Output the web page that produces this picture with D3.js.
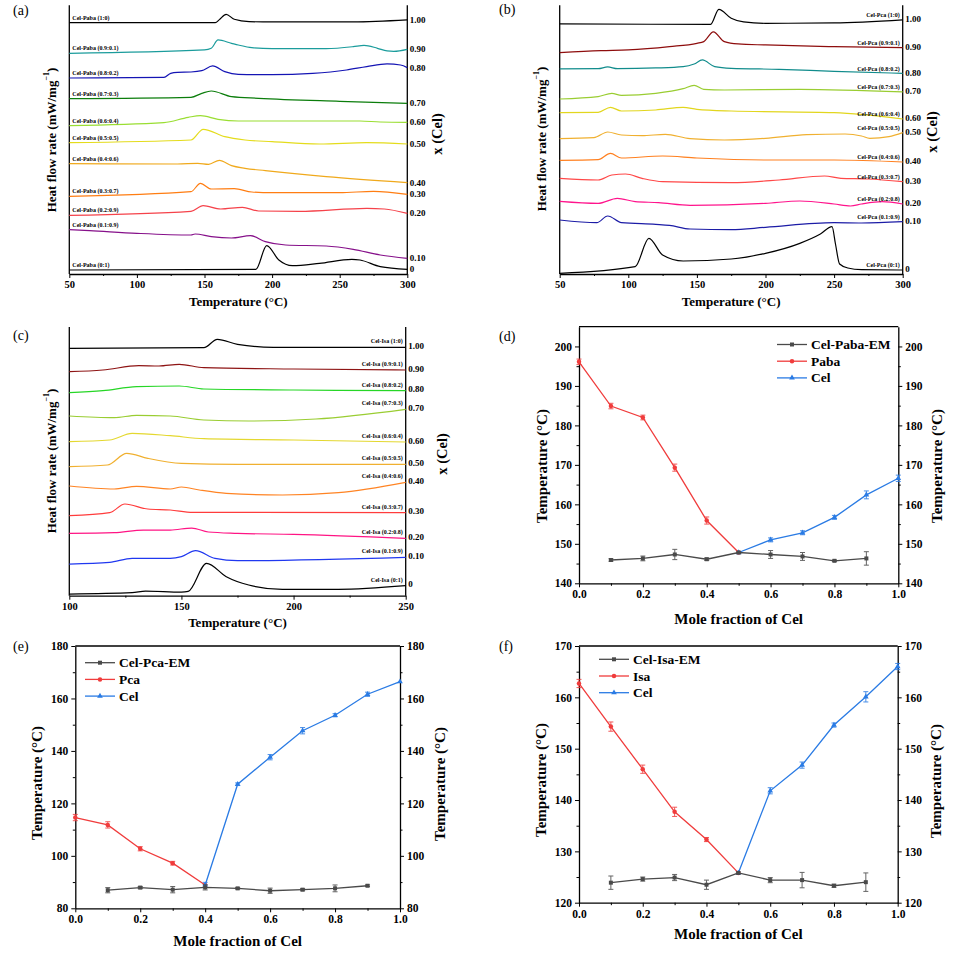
<!DOCTYPE html>
<html>
<head>
<meta charset="utf-8">
<script src="https://cdn.jsdelivr.net/npm/d3@7"></script>
<style>
  body { margin: 0; background: #fff; }
  svg text { font-family: "Liberation Serif", "DejaVu Serif", serif !important; font-weight: bold; fill: #000; }
</style>
</head>
<body>
<div id="fig"></div>
<script>
// ---------- (a) Cel-Paba DSC curves: [temperature, heat flow (a.u., stacked)] ----------
const labelsA = ["Cel-Paba (1:0)", "Cel-Paba (0.9:0.1)", "Cel-Paba (0.8:0.2)", "Cel-Paba (0.7:0.3)", "Cel-Paba (0.6:0.4)",
  "Cel-Paba (0.5:0.5)", "Cel-Paba (0.4:0.6)", "Cel-Paba (0.3:0.7)", "Cel-Paba (0.2:0.9)", "Cel-Paba (0.1:0.9)", "Cel-Paba (0:1)"];
const fracA = ["1.00", "0.90", "0.80", "0.70", "0.60", "0.50", "0.40", "0.30", "0.20", "0.10", "0"];
const curvesA = [
  [[50,75.4],[158,75.4],[161,76.3],[166,77.9],[172,76.4],[183,75.7],[200,75.6],[260,75.6],[300,76.2]],
  [[50,66.2],[150,67.2],[155,67.7],[160,70.2],[170,69.2],[175,68.7],[185,67.9],[200,67.6],[240,67.6],[260,68.2],[268,68.6],[278,67.7],[285,66.9],[290,66.8],[300,67.4]],
  [[50,58.8],[120,59.0],[125,60.2],[130,60.5],[140,60.6],[148,61.0],[156,62.4],[165,60.7],[175,59.9],[200,59.8],[230,60.2],[255,61.2],[270,62.2],[285,63.0],[295,62.7],[300,61.9]],
  [[50,52.6],[140,53.0],[148,54.2],[155,54.9],[170,53.2],[190,52.7],[250,51.8],[300,51.2]],
  [[50,44.5],[120,45.4],[138,47.0],[147,47.5],[160,46.4],[175,45.9],[265,45.9],[280,45.6],[300,45.5]],
  [[50,39.4],[140,40.2],[149,43.4],[165,41.2],[180,40.2],[200,39.7],[235,39.0],[270,39.4],[300,39.0]],
  [[50,33.1],[130,33.0],[145,33.2],[153,32.9],[161,34.1],[170,32.5],[180,31.7],[195,31.0],[240,29.2],[300,27.4]],
  [[50,23.3],[140,24.7],[147,27.2],[155,25.5],[172,25.6],[185,24.6],[200,24.4],[250,24.4],[275,24.8],[300,23.9]],
  [[50,17.6],[140,18.8],[149,20.5],[162,19.5],[178,20.0],[190,18.9],[220,18.8],[270,19.7],[283,19.5],[300,18.2]],
  [[50,13.3],[65,13.0],[100,12.2],[140,11.7],[143,12.0],[155,11.2],[170,10.8],[184,11.5],[195,9.7],[210,8.7],[240,8.4],[260,7.4],[280,5.7],[300,4.7]],
  [[50,1.2],[188,1.4],[196,8.5],[205,4.2],[215,2.5],[235,3.2],[259,4.4],[265,4.2],[280,2.2],[300,1.4]]
];
const colorsA = ["#000000", "#1b9c9c", "#1414b4", "#0b7d0b", "#9ade32", "#e4dc1c", "#f0a91c", "#ff7d12", "#f5424a", "#86108a", "#000000"];

// ---------- (b) Cel-Pca DSC curves ----------
const labelsB = ["Cel-Pca (1:0)", "Cel-Pca (0.9:0.1)", "Cel-Pca (0.8:0.2)", "Cel-Pca (0.7:0.3)", "Cel-Pca (0.6:0.4)",
  "Cel-Pca (0.5:0.5)", "Cel-Pca (0.4:0.6)", "Cel-Pca (0.3:0.7)", "Cel-Pca (0.2:0.8)", "Cel-Pca (0.1:0.9)", "Cel-Pca (0:1)"];
const fracB = ["1.00", "0.90", "0.80", "0.70", "0.60", "0.50", "0.40", "0.30", "0.20", "0.10", "0"];
const curvesB = [
  [[50,75.0],[160,74.9],[166,79.4],[175,76.7],[184,75.6],[200,75.2],[250,75.3],[300,76.2]],
  [[50,66.4],[80,67.0],[100,67.2],[130,68.2],[150,69.2],[155,69.7],[162,72.6],[170,69.7],[180,69.0],[200,68.7],[250,68.2],[300,67.9]],
  [[50,61.5],[78,61.6],[85,62.1],[92,61.6],[120,61.8],[140,62.2],[148,63.0],[154,64.2],[163,62.2],[175,61.7],[210,61.4],[250,60.8],[300,60.2]],
  [[50,52.5],[78,53.2],[88,54.2],[95,53.6],[120,54.2],[140,55.6],[148,56.6],[155,55.4],[170,55.2],[225,55.4],[300,54.6]],
  [[50,48.4],[78,48.5],[87,50.0],[95,48.9],[120,49.2],[140,50.0],[150,49.4],[175,48.9],[250,48.4],[300,46.5]],
  [[50,40.6],[75,40.9],[85,42.6],[95,41.7],[110,41.5],[127,41.9],[145,40.6],[170,40.2],[200,40.7],[230,41.8],[258,42.0],[270,41.4],[276,40.7],[290,41.2],[300,42.4]],
  [[50,34.1],[78,34.3],[87,36.2],[95,34.8],[125,35.4],[150,34.8],[200,34.2],[250,34.2],[300,33.6]],
  [[50,28.7],[78,28.2],[88,29.7],[98,30.0],[110,28.7],[125,27.7],[175,27.4],[210,28.2],[243,29.4],[255,28.7],[275,28.5],[300,27.7]],
  [[50,21.8],[78,21.2],[92,22.7],[105,21.7],[122,21.4],[145,20.6],[200,21.2],[225,21.9],[250,21.0],[262,20.4],[270,21.0],[285,21.7],[300,21.0]],
  [[50,16.2],[77,15.4],[85,17.4],[95,15.4],[120,14.9],[130,14.6],[145,13.5],[175,13.3],[200,14.0],[250,15.4],[270,15.3],[300,15.7]],
  [[50,0.2],[105,2.2],[115,10.7],[125,5.7],[140,3.9],[175,4.5],[200,6.2],[225,9.2],[240,12.0],[248.5,14.2],[251,9.0],[254,3.0],[260,1.8],[270,1.3],[300,1.2]]
];
const colorsB = ["#000000", "#8e0d0d", "#118c8c", "#9acd32", "#e2d61e", "#f0b030", "#ff8020", "#ff4848", "#ff148c", "#1c1ca6", "#000000"];

// ---------- (c) Cel-Isa DSC curves ----------
const labelsC = ["Cel-Isa (1:0)", "Cel-Isa (0.9:0.1)", "Cel-Isa (0.8:0.2)", "Cel-Isa (0.7:0.3)", "Cel-Isa (0.6:0.4)",
  "Cel-Isa (0.5:0.5)", "Cel-Isa (0.4:0.6)", "Cel-Isa (0.3:0.7)", "Cel-Isa (0.2:0.8)", "Cel-Isa (0.1:0.9)", "Cel-Isa (0:1)"];
const fracC = ["1.00", "0.90", "0.80", "0.70", "0.60", "0.50", "0.40", "0.30", "0.20", "0.10", "0"];
const curvesC = [
  [[100,74.2],[160,74.4],[166,76.9],[175,75.4],[191,74.5],[250,74.5]],
  [[100,67.2],[115,67.7],[131,69.0],[140,68.9],[149,69.4],[160,68.4],[200,68.0],[250,67.7]],
  [[100,60.9],[115,61.5],[130,62.7],[149,62.9],[160,62.0],[200,61.7],[250,61.5]],
  [[100,53.9],[120,53.4],[130,54.1],[145,53.9],[160,52.7],[180,52.4],[210,53.0],[250,55.9]],
  [[100,46.2],[118,46.7],[128,48.7],[145,48.0],[160,47.1],[200,46.7],[250,46.1]],
  [[100,38.7],[117,39.2],[125.6,42.7],[135,41.2],[150,39.7],[175,39.4],[250,39.4]],
  [[100,32.9],[120,32.0],[130,32.8],[145,32.0],[150,32.6],[158,31.7],[170,30.7],[195,30.2],[220,30.9],[250,34.0]],
  [[100,24.0],[118,24.9],[124.8,27.5],[135,26.0],[145,25.7],[155,25.0],[250,24.9]],
  [[100,18.7],[120,18.9],[133,19.7],[145,19.7],[154.6,20.3],[162,19.1],[175,18.7],[200,18.4],[250,17.2]],
  [[100,9.5],[118,10.0],[128,11.2],[145,11.2],[150,11.7],[156.3,13.5],[165,11.2],[175,10.5],[250,11.5]],
  [[100,0.5],[128,0.9],[134,1.4],[150,1.1],[153,1.3],[161.2,9.7],[170,5.7],[180,3.2],[195,1.9],[220,1.9],[250,3.0]]
];
const colorsC = ["#000000", "#8e1414", "#26d626", "#9acd32", "#e4d830", "#f0b030", "#ff8424", "#ff3c3c", "#ff1484", "#2038f0", "#000000"];

// ---------- (d)-(f) phase diagrams: mole fraction of Cel vs temperature ----------
const emX = [0.1, 0.2, 0.3, 0.4, 0.5, 0.6, 0.7, 0.8, 0.9];
const leftX5 = [0, 0.1, 0.2, 0.3, 0.4, 0.5];
const rightX5 = [0.5, 0.6, 0.7, 0.8, 0.9, 1.0];
const leftX4 = [0, 0.1, 0.2, 0.3, 0.4];
const rightX4 = [0.4, 0.5, 0.6, 0.7, 0.8, 0.9, 1.0];

const emD = [145.9, 146.3, 147.3, 146.1, 147.8, 147.3, 146.8, 145.7, 146.3];
const emErrD = [0.3, 0.6, 1.3, 0.3, 0.2, 1.0, 1.0, 0.2, 1.7];
const pabaD = [196.1, 184.9, 182.0, 169.3, 155.9, 147.8];
const pabaErrD = [0.7, 0.7, 0.6, 0.9, 0.9, 0];
const celD = [147.8, 151.0, 152.8, 156.7, 162.4, 166.6];
const celErrD = [0, 0.5, 0.5, 0.5, 1.0, 0.8];

const emE = [86.9, 87.9, 87.1, 88.0, 87.6, 86.7, 87.1, 87.6, 88.6];
const emErrE = [1.0, 0.4, 1.2, 1.0, 0.3, 1.0, 0.4, 1.3, 0.3];
const pcaE = [114.6, 111.8, 102.7, 97.2, 88.9];
const pcaErrE = [1.2, 1.2, 0.8, 0.7, 0];
const celE = [88.9, 127.3, 137.6, 147.7, 153.6, 161.6, 166.4];
const celErrE = [1.0, 0.5, 1.0, 1.2, 0.6, 0.8, 0];

const emF = [123.9, 124.6, 124.9, 123.5, 125.8, 124.4, 124.4, 123.3, 124.0];
const emErrF = [1.3, 0.4, 0.6, 0.9, 0.2, 0.5, 1.5, 0.3, 1.8];
const isaF = [162.7, 154.3, 146.0, 137.7, 132.3, 125.8];
const isaErrF = [0.8, 0.9, 0.8, 0.9, 0.4, 0];
const celF = [125.8, 141.8, 146.8, 154.6, 160.1, 166.0];
const celErrF = [0, 0.6, 0.6, 0.4, 1.0, 0.6];

const molTicks = [0, 0.2, 0.4, 0.6, 0.8, 1.0];
const molMinor = [0.1, 0.3, 0.5, 0.7, 0.9];

const EM_COLOR = "#4a4a4a", RED = "#f03c3c", BLUE = "#2a7be4";
const FONT = "'Liberation Serif', 'DejaVu Serif', serif";

const svg = d3.select("#fig").append("svg").attr("width", 954).attr("height", 953)
  .attr("font-family", FONT);

function letter(txt, x, y) {
  svg.append("text").attr("x", x).attr("y", y).text(txt)
    .style("font-weight", "normal").style("font-size", "14px");
}

function title(txt, x, y, rotate, size) {
  const t = svg.append("text").attr("text-anchor", "middle").attr("dominant-baseline", "central")
    .style("font-size", size + "px").text(txt);
  if (rotate) t.attr("transform", `translate(${x},${y}) rotate(-90)`);
  else t.attr("x", x).attr("y", y);
  return t;
}

function styleAxis(g, size) {
  g.attr("font-family", FONT);
  g.select(".domain").attr("stroke", "#000").attr("stroke-width", 1.3);
  g.selectAll(".tick line").attr("stroke", "#000").attr("stroke-width", 1);
  g.selectAll("text").style("font-size", size + "px");
}

//DSC stacked curves
function drawDsc(o) {
  const x = d3.scaleLinear().domain(o.xDomain).range([o.box.l, o.box.r]);
  const y = d3.scaleLinear().domain([0, 80]).range([o.box.b, o.box.t]);

  const gx = svg.append("g").attr("transform", `translate(0,${o.box.b})`)
    .call(d3.axisBottom(x).tickValues(o.xMajor).tickSize(4).tickSizeOuter(0).tickPadding(3));
  styleAxis(gx, 10.5);
  svg.append("g").attr("transform", `translate(0,${o.box.b})`)
    .call(d3.axisBottom(x).tickValues(o.xMinor).tickSize(2).tickFormat(""))
    .call(g => g.select(".domain").remove());

  svg.append("line").attr("x1", o.box.l).attr("x2", o.box.l).attr("y1", o.box.t - 2).attr("y2", o.box.b)
    .attr("stroke", "#000").attr("stroke-width", 1.3);
  svg.append("line").attr("x1", o.box.r).attr("x2", o.box.r).attr("y1", o.box.t - 2).attr("y2", o.box.b)
    .attr("stroke", "#000").attr("stroke-width", 1.3);

  const line = d3.line().x(d => x(d[0])).y(d => y(d[1])).curve(d3.curveMonotoneX);

  o.curves.forEach((c, i) => {
    svg.append("path").attr("d", line(c)).attr("fill", "none")
      .attr("stroke", o.colors[i]).attr("stroke-width", 1.2);

    const anchorPt = o.labelSide === "left" ? c[0] : c[c.length - 1];
    svg.append("text")
      .attr("x", o.labelSide === "left" ? o.box.l + 3 : o.box.r - 3)
      .attr("y", y(anchorPt[1]) - o.labelGap)
      .attr("text-anchor", o.labelSide === "left" ? "start" : "end")
      .style("font-size", "6px")
      .text(o.labels[i]);

    const end = c[c.length - 1];
    svg.append("text").attr("x", o.box.r + 2.5).attr("y", y(end[1]) - o.fracShift)
      .attr("dominant-baseline", "central").style("font-size", "9px")
      .text(o.fracs[i]);
  });

  title("Temperature (\u00B0C)", (o.box.l + o.box.r) / 2, o.box.b + 27, false, 13);
  title("", o.yTitle[0], o.yTitle[1], true, 13)
    .call(t => { t.append("tspan").text("Heat flow rate (mW/mg");
                 t.append("tspan").attr("baseline-shift", "super").style("font-size", "8px").text("\u22121");
                 t.append("tspan").text(")"); });
  title("x (Cel)", o.fracTitle[0], o.fracTitle[1], true, 14.5);
}

drawDsc({
  box: { l: 69.3, r: 407.3, t: 7.3, b: 274 }, xDomain: [50, 300],
  xMajor: [50, 100, 150, 200, 250, 300], xMinor: [75, 125, 175, 225, 275],
  curves: curvesA, labels: labelsA, fracs: fracA, colors: colorsA,
  labelSide: "left", labelGap: 3, fracShift: 0,
  yTitle: [51, 140], fracTitle: [437, 134]
});
drawDsc({
  box: { l: 559.7, r: 902.7, t: 7.3, b: 274 }, xDomain: [50, 300],
  xMajor: [50, 100, 150, 200, 250, 300], xMinor: [75, 125, 175, 225, 275],
  curves: curvesB, labels: labelsB, fracs: fracB, colors: colorsB,
  labelSide: "right", labelGap: 2.5, fracShift: 0.6,
  yTitle: [541, 139], fracTitle: [932, 132]
});
drawDsc({
  box: { l: 69.3, r: 405.7, t: 329, b: 595.7 }, xDomain: [100, 250],
  xMajor: [100, 150, 200, 250], xMinor: [125, 175, 225],
  curves: curvesC, labels: labelsC, fracs: fracC, colors: colorsC,
  labelSide: "right", labelGap: 4, fracShift: 1.5,
  yTitle: [51, 461], fracTitle: [442, 454]
});

//Phase diagram with error bars
function drawPhase(o) {
  const x = d3.scaleLinear().domain([0, 1]).range([o.box.l, o.box.r]);
  const y = d3.scaleLinear().domain(o.yDomain).range([o.box.b, o.box.t]);

  const gx = svg.append("g").attr("transform", `translate(0,${o.box.b})`)
    .call(d3.axisBottom(x).tickValues(molTicks).tickFormat(d3.format(".1f")).tickSize(4).tickSizeOuter(0).tickPadding(3));
  styleAxis(gx, 11.5);
  svg.append("g").attr("transform", `translate(0,${o.box.b})`)
    .call(d3.axisBottom(x).tickValues(molMinor).tickSize(2.5).tickFormat(""))
    .call(g => g.select(".domain").remove());

  const gl = svg.append("g").attr("transform", `translate(${o.box.l},0)`)
    .call(d3.axisLeft(y).tickValues(o.yMajor).tickSize(4).tickSizeOuter(0).tickPadding(3));
  styleAxis(gl, 11.5);
  svg.append("g").attr("transform", `translate(${o.box.l},0)`)
    .call(d3.axisLeft(y).tickValues(o.yMinor).tickSize(2.5).tickFormat(""))
    .call(g => g.select(".domain").remove());

  const gr = svg.append("g").attr("transform", `translate(${o.box.r},0)`)
    .call(d3.axisRight(y).tickValues(o.yMajor).tickSize(4).tickSizeOuter(0).tickPadding(3));
  styleAxis(gr, 11.5);
  svg.append("g").attr("transform", `translate(${o.box.r},0)`)
    .call(d3.axisRight(y).tickValues(o.yMinor).tickSize(2.5).tickFormat(""))
    .call(g => g.select(".domain").remove());

  svg.append("line").attr("x1", o.box.l).attr("x2", o.box.r).attr("y1", o.box.t).attr("y2", o.box.t)
    .attr("stroke", "#000").attr("stroke-width", 1.3);

  const line = d3.line().x(d => x(d.x)).y(d => y(d.v));

  o.series.forEach(s => {
    const pts = s.x.map((xv, i) => ({ x: xv, v: s.v[i], e: s.err[i] }));
    svg.append("path").attr("d", line(pts)).attr("fill", "none")
      .attr("stroke", s.color).attr("stroke-width", 1.3);
    const eb = svg.append("g").attr("stroke", s.color).attr("stroke-width", 1).attr("opacity", 0.85);
    pts.filter(p => p.e > 0).forEach(p => {
      const cx = x(p.x), y1 = y(p.v - p.e), y2 = y(p.v + p.e);
      eb.append("line").attr("x1", cx).attr("x2", cx).attr("y1", y1).attr("y2", y2);
      eb.append("line").attr("x1", cx - 2.5).attr("x2", cx + 2.5).attr("y1", y1).attr("y2", y1);
      eb.append("line").attr("x1", cx - 2.5).attr("x2", cx + 2.5).attr("y1", y2).attr("y2", y2);
    });
    svg.append("g").selectAll("path").data(pts).join("path")
      .attr("transform", p => `translate(${x(p.x)},${y(p.v)})`)
      .attr("d", d3.symbol().type(s.symbol).size(s.size))
      .attr("fill", s.color);
  });

  // legend, drawn in the order of the reference
  o.legendOrder.forEach((k, i) => {
    const s = o.series[k];
    const ly = o.legend[1] + i * 16.7;
    svg.append("line").attr("x1", o.legend[0]).attr("x2", o.legend[0] + 30).attr("y1", ly).attr("y2", ly)
      .attr("stroke", s.color).attr("stroke-width", 1.3);
    svg.append("path").attr("transform", `translate(${o.legend[0] + 15},${ly})`)
      .attr("d", d3.symbol().type(s.symbol).size(s.size)).attr("fill", s.color);
    svg.append("text").attr("x", o.legend[0] + 34).attr("y", ly).attr("dominant-baseline", "central")
      .style("font-size", "13.5px").text(s.name);
  });

  title("Mole fraction of Cel", (o.box.l + o.box.r) / 2, o.xTitleY, false, 15);
  title("Temperature (\u00B0C)", o.yTitle[0], o.yTitle[1], true, 15);
  title("Temperature (\u00B0C)", o.yTitle2[0], o.yTitle2[1], true, 15);
}

function phaseSeries(name2, x2, v2, e2, xc, vc, ec, em, emErr) {
  return [
    { name: name2, x: x2, v: v2, err: e2, color: RED, symbol: d3.symbolCircle, size: 16 },
    { name: "Cel", x: xc, v: vc, err: ec, color: BLUE, symbol: d3.symbolTriangle, size: 14 },
    { name: em.name, x: emX, v: em.v, err: emErr, color: EM_COLOR, symbol: d3.symbolSquare, size: 16 }
  ];
}

drawPhase({
  box: { l: 579, r: 898.3, t: 326.7, b: 583.3 }, yDomain: [140, 205],
  yMajor: [140, 150, 160, 170, 180, 190, 200], yMinor: [145, 155, 165, 175, 185, 195],
  series: phaseSeries("Paba", leftX5, pabaD, pabaErrD, rightX5, celD, celErrD, { name: "Cel-Paba-EM", v: emD }, emErrD),
  legendOrder: [2, 0, 1], legend: [777, 344.5],
  xTitleY: 619, yTitle: [541.5, 466], yTitle2: [936.5, 466]
});
drawPhase({
  box: { l: 75.3, r: 400, t: 646, b: 908.3 }, yDomain: [80, 180],
  yMajor: [80, 100, 120, 140, 160, 180], yMinor: [90, 110, 130, 150, 170],
  series: phaseSeries("Pca", leftX4, pcaE, pcaErrE, rightX4, celE, celErrE, { name: "Cel-Pca-EM", v: emE }, emErrE),
  legendOrder: [2, 0, 1], legend: [85, 662.7],
  xTitleY: 940.5, yTitle: [37, 783], yTitle2: [440, 784]
});
drawPhase({
  box: { l: 579, r: 897.7, t: 646, b: 902.7 }, yDomain: [120, 170],
  yMajor: [120, 130, 140, 150, 160, 170], yMinor: [125, 135, 145, 155, 165],
  series: phaseSeries("Isa", leftX5, isaF, isaErrF, rightX5, celF, celErrF, { name: "Cel-Isa-EM", v: emF }, emErrF),
  legendOrder: [2, 0, 1], legend: [599, 659.3],
  xTitleY: 933.5, yTitle: [540.5, 780], yTitle2: [935.5, 781]
});

letter("(a)", 13, 15);
letter("(b)", 499, 14);
letter("(c)", 13, 340);
letter("(d)", 499, 341);
letter("(e)", 13, 651);
letter("(f)", 499, 651);
</script>
</body>
</html>
